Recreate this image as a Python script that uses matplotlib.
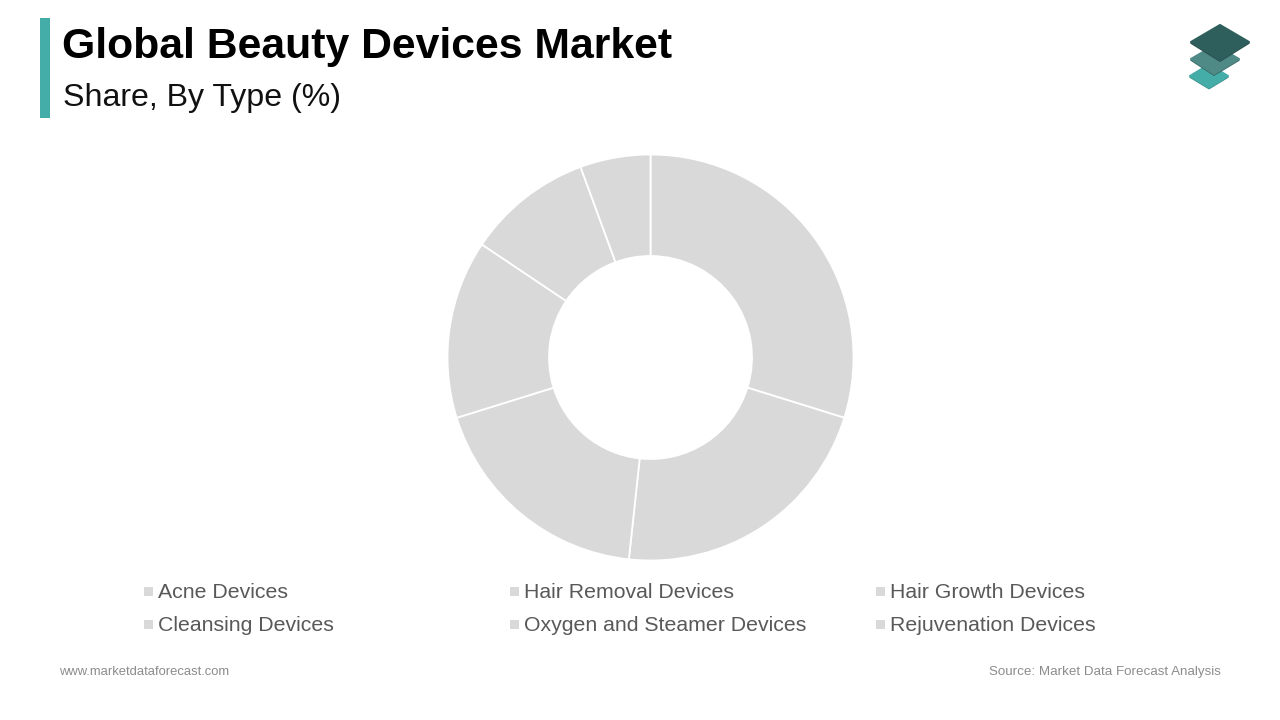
import matplotlib
matplotlib.use("Agg")
import matplotlib.pyplot as plt
from matplotlib.patches import Rectangle, Polygon

title = "Global Beauty Devices Market"
subtitle = "Share, By Type (%)"
categories = ["Acne Devices", "Hair Removal Devices", "Hair Growth Devices",
              "Cleansing Devices", "Oxygen and Steamer Devices", "Rejuvenation Devices"]
shares = [29.8, 21.9, 18.5, 14.2, 10.0, 5.6]
slice_color = "#D9D9D9"
footer_left = "www.marketdataforecast.com"
footer_right = "Source: Market Data Forecast Analysis"

plt.rcParams["font.family"] = ["Liberation Sans", "DejaVu Sans"]
W, H = 1280, 720
fig = plt.figure(figsize=(W / 100, H / 100), dpi=100, facecolor="white")

# Page layer in pixel coordinates
bg = fig.add_axes([0, 0, 1, 1])
bg.set_xlim(0, W)
bg.set_ylim(H, 0)
bg.axis("off")

bg.add_patch(Rectangle((40, 18), 10, 100, color="#45ADA8", lw=0))
bg.text(62, 58, title, fontsize=30.8, fontweight="bold", color="black", va="baseline", ha="left")
bg.text(63, 106, subtitle, fontsize=23.1, color="#111111", va="baseline", ha="left")

# Logo: each layer is a soft shadow edge plus a rounded face
for pts, col, shade, z in [
    ([(1190, 76), (1209, 64.5), (1228, 76), (1209, 87.5)], "#45ADA8", "#3A8D89", 2),
    ([(1191, 59), (1215, 45), (1239, 59), (1214, 74)], "#4F8A87", "#33605D", 4),
    ([(1191, 42), (1220, 25), (1249, 42), (1220, 60)], "#2F5F5C", "#274A48", 6),
]:
    shadow = [(x, y + 1.2) for x, y in pts]
    bg.add_patch(Polygon(shadow, closed=True, facecolor=shade, edgecolor=shade, lw=1.0,
                         zorder=z, joinstyle="round"))
    bg.add_patch(Polygon(pts, closed=True, facecolor=col, edgecolor=col, lw=1.5,
                         zorder=z + 1, joinstyle="round"))

# Donut
cx, cy, R = 650.5, 357.5, 203
ax = fig.add_axes([(cx - R) / W, 1 - (cy + R) / H, 2 * R / W, 2 * R / H])
ax.pie(shares, colors=[slice_color] * len(shares), startangle=90, counterclock=False,
       radius=1.0, wedgeprops=dict(width=0.5, edgecolor="white", linewidth=1.3))
ax.set_xlim(-1, 1)
ax.set_ylim(-1, 1)
ax.set_aspect("equal")

# Legend
xs = [144, 510, 876]
ys = [591, 624]
for i, label in enumerate(categories):
    x, y = xs[i % 3], ys[i // 3]
    bg.add_patch(Rectangle((x, y - 4), 8.5, 8.5, color=slice_color, lw=0))
    bg.text(x + 14, y + 6.5 + (i // 3) * 0.6, label, fontsize=15.3, color="#595959",
            va="baseline", ha="left")

# Footer
bg.text(59, 675, footer_left, fontsize=9.35, color="#8C8C8C", va="baseline", ha="left")
bg.text(1221, 675, footer_right, fontsize=9.6, color="#8C8C8C", va="baseline", ha="right")

fig.savefig("out.png", dpi=100, facecolor="white")
